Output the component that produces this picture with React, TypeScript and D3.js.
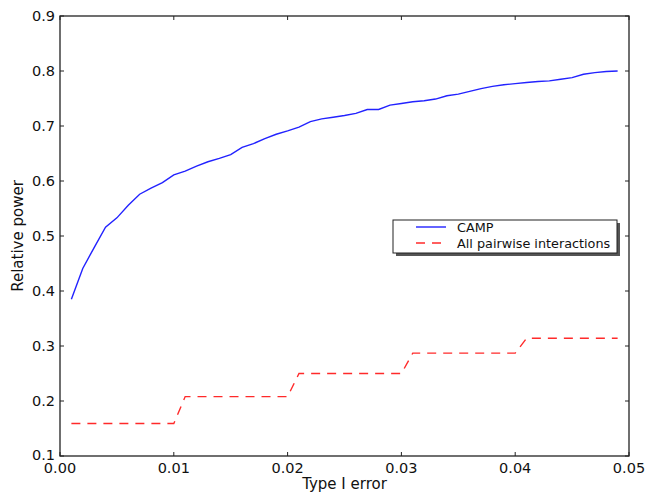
import React from "react";
import * as d3 from "d3";

const typeIError = [
  0.001, 0.002, 0.003, 0.004, 0.005, 0.006, 0.007, 0.008, 0.009, 0.01,
  0.011, 0.012, 0.013, 0.014, 0.015, 0.016, 0.017, 0.018, 0.019, 0.02,
  0.021, 0.022, 0.023, 0.024, 0.025, 0.026, 0.027, 0.028, 0.029, 0.03,
  0.031, 0.032, 0.033, 0.034, 0.035, 0.036, 0.037, 0.038, 0.039, 0.04,
  0.041, 0.042, 0.043, 0.044, 0.045, 0.046, 0.047, 0.048, 0.049,
];

const campPower = [
  0.385, 0.441, 0.479, 0.516, 0.533, 0.556, 0.576, 0.587, 0.597, 0.611,
  0.618, 0.627, 0.635, 0.641, 0.648, 0.661, 0.668, 0.677, 0.685, 0.691,
  0.698, 0.708, 0.713, 0.716, 0.719, 0.723, 0.73, 0.73, 0.738, 0.741,
  0.744, 0.746, 0.749, 0.755, 0.758, 0.763, 0.768, 0.772, 0.775, 0.777,
  0.779, 0.781, 0.782, 0.785, 0.788, 0.794, 0.797, 0.799, 0.8,
];

const pairwisePower = [
  0.159, 0.159, 0.159, 0.159, 0.159, 0.159, 0.159, 0.159, 0.159, 0.159,
  0.208, 0.208, 0.208, 0.208, 0.208, 0.208, 0.208, 0.208, 0.208, 0.208,
  0.25, 0.25, 0.25, 0.25, 0.25, 0.25, 0.25, 0.25, 0.25, 0.25,
  0.287, 0.287, 0.287, 0.287, 0.287, 0.287, 0.287, 0.287, 0.287, 0.287,
  0.314, 0.314, 0.314, 0.314, 0.314, 0.314, 0.314, 0.314, 0.314,
];

const xTicks = [0, 0.01, 0.02, 0.03, 0.04, 0.05];
const yTicks = [0.1, 0.2, 0.3, 0.4, 0.5, 0.6, 0.7, 0.8, 0.9];

const W = 647;
const H = 493;
const left = 60;
const right = 629;
const top = 16;
const bottom = 456;
const font = "'DejaVu Sans', sans-serif";

export default function App() {
  const x = d3.scaleLinear().domain([0, 0.05]).range([left, right]);
  const y = d3.scaleLinear().domain([0.1, 0.9]).range([bottom, top]);

  const lineGen = d3
    .line<number>()
    .x((_, i) => x(typeIError[i]))
    .y((d) => y(d));

  const tick = 4;

  return (
    <svg
      width={W}
      height={H}
      style={{ position: "absolute", left: 0, top: 0, background: "#fff" }}
      fontFamily={font}
    >
      <rect x={0} y={0} width={W} height={H} fill="#fff" />
      <path
        d={lineGen(campPower) || ""}
        fill="none"
        stroke="#2222ff"
        strokeWidth={1.4}
      />
      <path
        d={lineGen(pairwisePower) || ""}
        fill="none"
        stroke="#ff2a2a"
        strokeWidth={1.4}
        strokeDasharray="9,7"
      />

      {/* frame */}
      <rect
        x={left}
        y={top}
        width={right - left}
        height={bottom - top}
        fill="none"
        stroke="#222"
        strokeWidth={1.3}
      />

      {xTicks.map((t) => (
        <g key={"x" + t}>
          <line x1={x(t)} x2={x(t)} y1={bottom} y2={bottom - tick} stroke="#222" />
          <line x1={x(t)} x2={x(t)} y1={top} y2={top + tick} stroke="#222" />
          <text
            x={x(t)}
            y={472.5}
            fontSize={14.5}
            textAnchor="middle"
            fill="#111"
          >
            {d3.format(".2f")(t)}
          </text>
        </g>
      ))}

      {yTicks.map((t) => (
        <g key={"y" + t}>
          <line x1={left} x2={left + tick} y1={y(t)} y2={y(t)} stroke="#222" />
          <line x1={right} x2={right - tick} y1={y(t)} y2={y(t)} stroke="#222" />
          <text
            x={55}
            y={t === 0.1 ? y(t) - 1.5 : y(t)}
            dy="0.36em"
            fontSize={14.5}
            textAnchor="end"
            fill="#111"
          >
            {d3.format(".1f")(t)}
          </text>
        </g>
      ))}

      <text x={(left + right) / 2} y={488.5} fontSize={15} textAnchor="middle" fill="#111">
        Type I error
      </text>
      <text
        transform={`translate(23, ${(top + bottom) / 2}) rotate(-90)`}
        fontSize={15}
        textAnchor="middle"
        fill="#111"
      >
        Relative power
      </text>

      {/* legend */}
      <g>
        <rect x={396} y={223} width={224} height={33} fill="#555" />
        <rect x={393} y={220} width={224} height={33} fill="#fff" stroke="#222" strokeWidth={1} />
        <line x1={416} x2={446} y1={227} y2={227} stroke="#2222ff" strokeWidth={1.4} />
        <line
          x1={416}
          x2={446}
          y1={243}
          y2={243}
          stroke="#ff2a2a"
          strokeWidth={1.4}
          strokeDasharray="9,7"
        />
        <text x={457} y={227} dy="0.36em" fontSize={12.8} fill="#111">
          CAMP
        </text>
        <text x={457} y={243} dy="0.36em" fontSize={12.8} fill="#111">
          All pairwise interactions
        </text>
      </g>
    </svg>
  );
}
